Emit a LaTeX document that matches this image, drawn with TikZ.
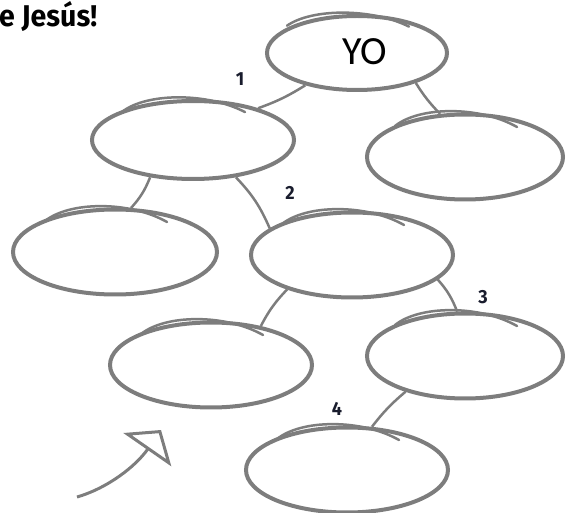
\documentclass[tikz,border=0pt]{standalone}
\usepackage{fontspec}
\setmainfont{Carlito}
\newfontfamily\headfont{Fira Sans}[FakeStretch=0.95]
\usetikzlibrary{arrows.meta,shapes.geometric,positioning}
\definecolor{pen}{RGB}{125,125,125}
\definecolor{ink}{RGB}{25,28,45}

\begin{document}
\begin{tikzpicture}[x=1pt,y=-1pt,
		bubble/.style={ellipse, draw=pen, line width=4pt, minimum width=202pt, minimum height=85pt, inner sep=0pt},
		sketch/.style={draw=pen, line width=2.5pt, line cap=round},
		link/.style={draw=pen, line width=2.5pt},
		num/.style={font=\headfont\bfseries\fontsize{19}{19}\selectfont, text=ink},
	]
		\useasboundingbox (0,0) rectangle (566,513);
		\node[anchor=base west, inner sep=0pt, font=\headfont\bfseries\fontsize{30}{30}\selectfont] (title) at (-1,27) {e Jesús!};
		
		\node[bubble, minimum width=180pt, minimum height=74pt] (yo) at (357,53) {};
		\node[bubble, minimum height=78pt] (p1) at (193,140) {};
		\node[bubble, minimum width=196pt] (s1) at (465,157) {};
		\node[bubble, minimum width=204pt] (s2) at (115,252) {};
		\node[bubble] (p2) at (352,255) {};
		\node[bubble] (s3) at (211,365) {};
		\node[bubble, minimum width=196pt] (p3) at (465,356) {};
		\node[bubble] (p4) at (347,470) {};
		\foreach \b/\s in {yo/0.88,p1/0.93,s1/1,s2/1,p2/1,s3/1,p3/1,p4/1}
			\draw[sketch, shift={(\b.center)}, yscale=\s] (-70,-31) .. controls (-45,-51) and (15,-51) .. (52,-30);
		
		\node[font=\fontsize{40}{40}\selectfont] (yotxt) at (365,52) {YO};
		
		\draw[link] (yo.212) to[bend left=6] (p1.26);
		\draw[link] (yo.333) to[bend right=6] (s1.120);
		\draw[link] (p1.221) to[bend left=10] (s2.70);
		\draw[link] (p1.319) to[bend left=10] (p2.162);
		\draw[link] (p2.208) to[bend right=8] (s3.38);
		\draw[link] (p2.344) to[bend left=10] (p3.100);
		\draw[link] (p3.211) to[bend right=6] (p4.60);
		
		\node[num] (n1) at (240,79) {1};
		\node[num] (n2) at (290,193) {2};
		\node[num] (n3) at (483,297) {3};
		\node[num] (n4) at (337,409) {4};
		
		\coordinate (tail) at (77,497);
		\coordinate (tip) at (161,430);
		\draw[link, line width=3pt, -{Triangle[open, length=24pt, width=58pt, line width=3pt]}] (tail) .. controls (108,488) and (136,466) .. (tip);
	\end{tikzpicture}
\end{document}
